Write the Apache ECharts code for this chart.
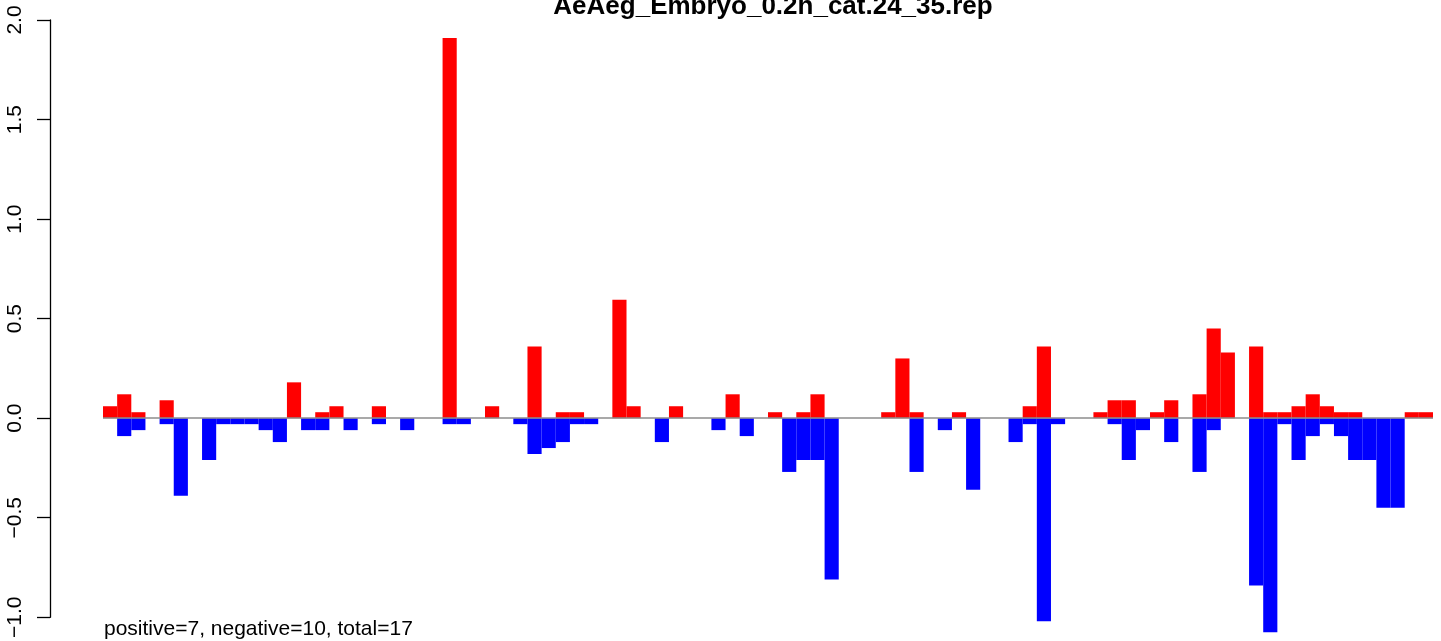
<!DOCTYPE html>
<html>
<head>
<meta charset="utf-8">
<script src="https://cdn.jsdelivr.net/npm/echarts@6/dist/echarts.min.js"></script>
<style>
html,body{margin:0;padding:0;background:#fff;}
#chart{width:1441px;height:641px;}
</style>
</head>
<body>
<div id="chart"></div>
<script>
const titleText = 'AeAeg_Embryo_0.2h_cat.24_35.rep';
const noteText = 'positive=7, negative=10, total=17';
const categories = Array.from({length: 94}, (_, i) => String(i + 1));
const positiveValues = [
  0.06, 0.12, 0.03, 0, 0.09, 0, 0, 0, 0, 0,
  0, 0, 0, 0.18, 0, 0.03, 0.06, 0, 0, 0.06,
  0, 0, 0, 0, 1.91, 0, 0, 0.06, 0, 0,
  0.36, 0, 0.03, 0.03, 0, 0, 0.595, 0.06, 0, 0,
  0.06, 0, 0, 0, 0.12, 0, 0, 0.03, 0, 0.03,
  0.12, 0, 0, 0, 0, 0.03, 0.30, 0.03, 0, 0,
  0.03, 0, 0, 0, 0, 0.06, 0.36, 0, 0, 0,
  0.03, 0.09, 0.09, 0, 0.03, 0.09, 0, 0.12, 0.45, 0.33,
  0, 0.36, 0.03, 0.03, 0.06, 0.12, 0.06, 0.03, 0.03, 0,
  0, 0, 0.03, 0.03
];
const negativeValues = [
  0, -0.09, -0.06, 0, -0.03, -0.39, 0, -0.21, -0.03, -0.03,
  -0.03, -0.06, -0.12, 0, -0.06, -0.06, 0, -0.06, 0, -0.03,
  0, -0.06, 0, 0, -0.03, -0.03, 0, 0, 0, -0.03,
  -0.18, -0.15, -0.12, -0.03, -0.03, 0, 0, 0, 0, -0.12,
  0, 0, 0, -0.06, 0, -0.09, 0, 0, -0.27, -0.21,
  -0.21, -0.81, 0, 0, 0, 0, 0, -0.27, 0, -0.06,
  0, -0.36, 0, 0, -0.12, -0.03, -1.02, -0.03, 0, 0,
  0, -0.03, -0.21, -0.06, 0, -0.12, 0, -0.27, -0.06, 0,
  0, -0.84, -1.075, -0.03, -0.21, -0.09, -0.03, -0.09, -0.21, -0.21,
  -0.45, -0.45, 0, 0
];
const yTicks = {min: -1, max: 2, interval: 0.5};

const FONT = '"Liberation Sans", Arial, Helvetica, sans-serif';
const chart = echarts.init(document.getElementById('chart'), null, {renderer: 'canvas'});
chart.setOption({
  backgroundColor: '#ffffff',
  animation: false,
  title: {
    text: titleText,
    left: 768,
    top: -11,
    textAlign: 'center',
    textStyle: {fontFamily: FONT, fontSize: 26, fontWeight: 'bold', color: '#000'}
  },
  graphic: [{
    type: 'text',
    style: {
      text: noteText, x: 104, y: 629,
      verticalAlign: 'middle', align: 'left',
      font: '21px "Liberation Sans", Arial, sans-serif', fill: '#000'
    }
  }],
  grid: {left: 103, right: 8, top: 20, bottom: 21, containLabel: false},
  xAxis: {
    type: 'category', data: categories, boundaryGap: true,
    show: false
  },
  yAxis: {
    type: 'value', min: yTicks.min, max: yTicks.max, interval: yTicks.interval,
    offset: 53,
    splitLine: {show: false},
    axisLine: {show: true, lineStyle: {color: '#000', width: 1.3}},
    axisTick: {show: true, length: 13, lineStyle: {color: '#000', width: 1.3}},
    axisLabel: {
      rotate: 90, margin: 24, color: '#000', fontFamily: FONT, fontSize: 21,
      formatter: v => v.toFixed(1).replace('-', '\u2212')
    }
  },
  series: [
    {
      type: 'bar', name: 'positive', data: positiveValues,
      barWidth: '100%', barGap: '-100%', clip: false,
      itemStyle: {color: '#ff0000'},
      markLine: {
        silent: true, symbol: 'none', label: {show: false},
        lineStyle: {color: '#8c8c8c', width: 1.5, type: 'solid'},
        data: [{yAxis: 0}]
      }
    },
    {
      type: 'bar', name: 'negative', data: negativeValues,
      barWidth: '100%', barGap: '-100%', clip: false,
      itemStyle: {color: '#0000ff'}
    }
  ]
});
</script>
</body>
</html>
